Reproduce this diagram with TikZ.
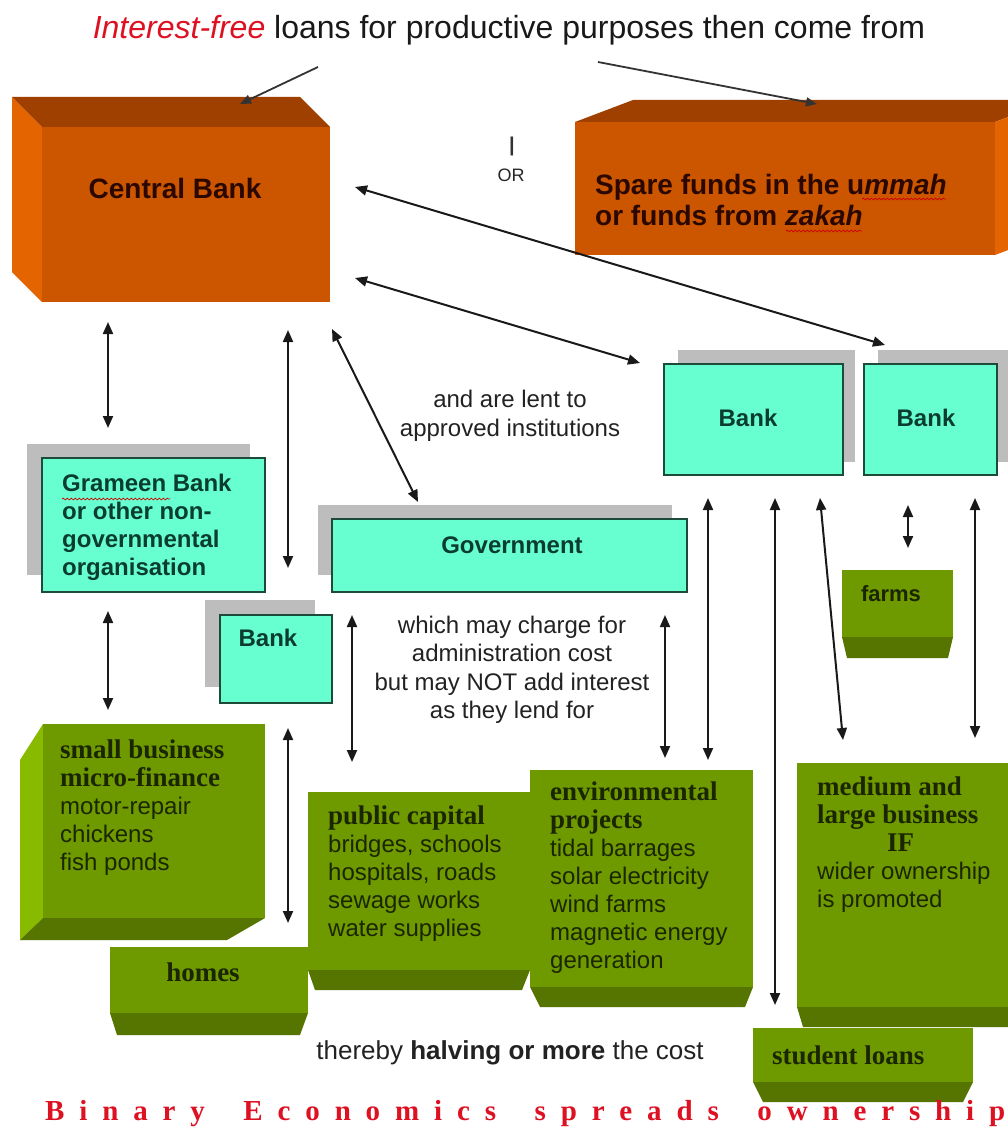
\documentclass[tikz,border=0pt]{standalone}
\usepackage{fontspec}
\setmainfont{Liberation Sans}
\newfontfamily\serifb{Liberation Serif}
\usetikzlibrary{arrows.meta,decorations.pathmorphing}
\definecolor{orF}{HTML}{CC5500}
\definecolor{orT}{HTML}{A04000}
\definecolor{orS}{HTML}{E46400}
\definecolor{orTxt}{HTML}{2A0800}
\definecolor{cyanF}{HTML}{68FFD0}
\definecolor{cyanB}{HTML}{1E4A3A}
\definecolor{cyanT}{HTML}{0B3D2E}
\definecolor{shad}{HTML}{BDBDBD}
\definecolor{gF}{HTML}{6E9A00}
\definecolor{gB}{HTML}{557500}
\definecolor{gL}{HTML}{88BA00}
\definecolor{gT}{HTML}{1B2600}
\definecolor{midT}{HTML}{222222}
\definecolor{redT}{HTML}{DD1122}
\newcommand\gHead{\serifb\bfseries\fontsize{27}{28}\selectfont}
\begin{document}
\begin{tikzpicture}[x=1pt,y=-1pt,
  arr/.style={{Triangle[length=12pt,width=10pt]}-{Triangle[length=12pt,width=10pt]}, line width=2pt, draw=black!90},
  sarr/.style={-{Triangle[length=11pt,width=9pt]}, line width=1.8pt, draw=black!80},
  face/.style={anchor=north west, inner sep=0pt, outer sep=0pt},
  cyanbox/.style={face, fill=cyanF, draw=cyanB, line width=1.4pt},
  btxt/.style={text=cyanT, font=\bfseries\fontsize{24}{28}\selectfont, inner sep=0pt},
  gtxt/.style={text=gT, font=\fontsize{24}{28}\selectfont, anchor=north west, inner sep=0pt, align=left},
  mtxt/.style={text=midT, font=\fontsize{24}{28.5}\selectfont, align=center, inner sep=0pt},
  otxt/.style={text=orTxt, font=\bfseries\fontsize{28}{31}\selectfont, inner sep=0pt},
  squig/.style={draw=red!80!black, line width=0.7pt, decorate, decoration={snake, amplitude=0.9pt, segment length=4pt}}
]
\useasboundingbox (0,0) rectangle (1008,1129);
\clip (0,0) rectangle (1008,1129);
\fill[white] (0,0) rectangle (1008,1129);

% ---------- title ----------
\node[font=\fontsize{32}{36}\selectfont, text=black!90, inner sep=0pt] (title) at (509,30)
  {\textcolor{redT}{\itshape Interest-free} loans for productive purposes then come from};
\coordinate (tl1) at (318,67);
\coordinate (tl2) at (240,104);
\coordinate (tr1) at (598,62);
\coordinate (tr2) at (817,104);

% ---------- Central Bank cube ----------
\fill[orS] (12,97) -- (42,127) -- (42,302) -- (12,272) -- cycle;
\fill[orT] (12,97) -- (300,97) -- (330,127) -- (42,127) -- cycle;
\node[face, fill=orF, minimum width=288pt, minimum height=175pt] (cb) at (42,127) {};
\node[otxt] (cbt) at (175,188) {Central Bank};

% ---------- Spare funds cube ----------
\fill[orT] (575,122) -- (633,100) -- (1053,100) -- (995,122) -- cycle;
\fill[orS] (995,122) -- (1053,100) -- (1053,233) -- (995,255) -- cycle;
\node[face, fill=orF, minimum width=420pt, minimum height=133pt] (sf) at (575,122) {};
\node[otxt, anchor=west, align=left] (sft) at (595,200)
  {Spare funds in the u\textit{mmah}\\or funds from \textit{zakah}};

% ---------- OR ----------
\node[text=black!80, font=\bfseries\fontsize{20}{20}\selectfont, inner sep=0pt] (bar) at (512,146) {|};
\node[text=black!85, font=\fontsize{18}{20}\selectfont, inner sep=0pt] (or) at (511,175) {OR};

% ---------- cyan boxes ----------
\fill[shad] (27,444) rectangle (250,575);
\node[cyanbox, minimum width=223pt, minimum height=134pt] (gram) at (42,458) {};
\node[btxt, anchor=north west, align=left] (gramt) at (62,474)
  {Grameen Bank\\or other non-\\governmental\\organisation};

\fill[shad] (205,600) rectangle (315,687);
\node[cyanbox, minimum width=112pt, minimum height=88pt] (sbank) at (220,615) {};
\node[btxt] (sbankt) at (268,638) {Bank};

\fill[shad] (318,505) rectangle (672,575);
\node[cyanbox, minimum width=355pt, minimum height=73pt] (gov) at (332,519) {};
\node[btxt] (govt) at (512,545) {Government};

\fill[shad] (678,350) rectangle (855,462);
\node[cyanbox, minimum width=179pt, minimum height=111pt] (bank1) at (664,364) {};
\node[btxt] (bank1t) at (748,418) {Bank};

\fill[shad] (878,350) rectangle (1012,462);
\node[cyanbox, minimum width=133pt, minimum height=111pt] (bank2) at (864,364) {};
\node[btxt] (bank2t) at (926,418) {Bank};

% ---------- green boxes ----------
% small business
\fill[gL] (43,724) -- (20,760) -- (20,940) -- (43,918) -- cycle;
\fill[gB] (43,918) -- (265,918) -- (227,940) -- (20,940) -- cycle;
\node[face, fill=gF, minimum width=222pt, minimum height=194pt] (sb) at (43,724) {};
\node[gtxt] (sbt) at (60,740)
  {{\gHead small business}\\{\gHead micro-finance}\\motor-repair\\chickens\\fish ponds};

% homes
\fill[gB] (110,1013) -- (308,1013) -- (300,1035) -- (117,1035) -- cycle;
\node[face, fill=gF, minimum width=198pt, minimum height=66pt] (homes) at (110,947) {};
\node[text=gT, font=\gHead, inner sep=0pt] (homest) at (203,972) {homes};

% public capital
\fill[gB] (308,970) -- (530,970) -- (522,990) -- (315,990) -- cycle;
\node[face, fill=gF, minimum width=222pt, minimum height=178pt] (pc) at (308,792) {};
\node[gtxt] (pct) at (328,806)
  {{\gHead public capital}\\bridges, schools\\hospitals, roads\\sewage works\\water supplies};

% environmental
\fill[gB] (530,987) -- (753,987) -- (745,1007) -- (540,1007) -- cycle;
\node[face, fill=gF, minimum width=223pt, minimum height=217pt] (env) at (530,770) {};
\node[gtxt] (envt) at (550,782)
  {{\gHead environmental}\\{\gHead projects}\\tidal barrages\\solar electricity\\wind farms\\magnetic energy\\generation};

% medium and large business
\fill[gB] (797,1007) -- (1015,1007) -- (1015,1027) -- (803,1027) -- cycle;
\node[face, fill=gF, minimum width=218pt, minimum height=244pt] (med) at (797,763) {};
\node[gtxt] (medt) at (817,777)
  {{\gHead medium and}\\{\gHead large business}\\\hspace*{70pt}{\gHead IF}\\wider ownership\\is promoted};

% student loans
\fill[gB] (753,1082) -- (973,1082) -- (963,1102) -- (763,1102) -- cycle;
\node[face, fill=gF, minimum width=220pt, minimum height=54pt] (stu) at (753,1028) {};
\node[text=gT, font=\gHead, anchor=west, inner sep=0pt] (stut) at (772,1055) {student loans};

% farms
\fill[gB] (842,637) -- (953,637) -- (948,658) -- (847,658) -- cycle;
\node[face, fill=gF, minimum width=111pt, minimum height=67pt] (farms) at (842,570) {};
\node[text=gT, font=\bfseries\fontsize{22}{24}\selectfont, inner sep=0pt] (farmst) at (891,594) {farms};

% ---------- free texts ----------
\node[mtxt] (lent) at (510,416) {and are lent to\\approved institutions};
\node[mtxt] (charge) at (512,670) {which may charge for\\administration cost\\but may NOT add interest\\as they lend for};
\node[text=midT, font=\fontsize{26}{30}\selectfont, inner sep=0pt] (halv) at (510,1053)
  {thereby \textbf{halving or more} the cost};
\node[text=redT, font=\serifb\bfseries\fontsize{29}{30}\selectfont, inner sep=0pt, anchor=west] (binary) at (45,1114)
  {\makebox[960pt]{B\hfill i\hfill n\hfill a\hfill r\hfill y\hspace{\stretch{2.6}}E\hfill c\hfill o\hfill n\hfill o\hfill m\hfill i\hfill c\hfill s\hspace{\stretch{2.6}}s\hfill p\hfill r\hfill e\hfill a\hfill d\hfill s\hspace{\stretch{2.6}}o\hfill w\hfill n\hfill e\hfill r\hfill s\hfill h\hfill i\hfill p}};

% spell-check squiggles
\coordinate (sq1a) at (62,499); \coordinate (sq1b) at (170,499);
\coordinate (sq2a) at (862,199); \coordinate (sq2b) at (946,199);
\coordinate (sq3a) at (786,231); \coordinate (sq3b) at (862,231);
\draw[squig] (sq1a) -- (sq1b);
\draw[squig] (sq2a) -- (sq2b);
\draw[squig] (sq3a) -- (sq3b);

% ---------- connectors ----------
\draw[sarr] (tl1) -- (tl2);
\draw[sarr] (tr1) -- (tr2);

\coordinate (a1) at (355,187);  \coordinate (a2) at (885,345);
\coordinate (b1) at (355,278);  \coordinate (b2) at (640,363);
\coordinate (c1) at (332,329);  \coordinate (c2) at (418,502);
\coordinate (d1) at (108,322);  \coordinate (d2) at (108,428);
\coordinate (e1) at (288,330);  \coordinate (e2) at (288,568);
\coordinate (f1) at (108,611);  \coordinate (f2) at (108,710);
\coordinate (g1) at (288,728);  \coordinate (g2) at (288,923);
\coordinate (h1) at (352,615);  \coordinate (h2) at (352,762);
\coordinate (i1) at (665,615);  \coordinate (i2) at (665,758);
\coordinate (j1) at (708,498);  \coordinate (j2) at (708,760);
\coordinate (k1) at (775,498);  \coordinate (k2) at (775,1005);
\coordinate (l1) at (820,498);  \coordinate (l2) at (843,740);
\coordinate (m1) at (908,505);  \coordinate (m2) at (908,548);
\coordinate (n1) at (975,498);  \coordinate (n2) at (975,738);
\foreach \p in {a,b,c,d,e,f,g,h,i,j,k,l,m,n} {\draw[arr] (\p1) -- (\p2);}
\end{tikzpicture}
\end{document}
